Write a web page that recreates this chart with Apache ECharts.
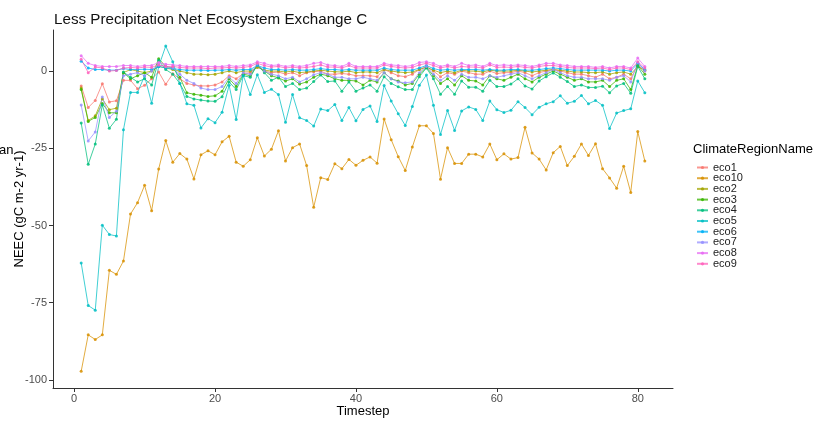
<!DOCTYPE html>
<html>
<head>
<meta charset="utf-8">
<script src="https://cdn.jsdelivr.net/npm/echarts@6/dist/echarts.min.js"></script>
<style>
html,body{margin:0;padding:0;background:#fff;}
#chart{width:817px;height:424px;}
</style>
</head>
<body>
<div id="chart"></div>
<script>
const timesteps = Array.from({length: 81}, (_, i) => i + 1);
const seriesNames = ['eco1','eco10','eco2','eco3','eco4','eco5','eco6','eco7','eco8','eco9'];
const colors = ['#F8766D','#D89000','#A3A500','#39B600','#00BF7D','#00BFC4','#00B0F6','#9590FF','#E76BF3','#FF62BC'];
const xTicks = [0, 20, 40, 60, 80];
const yTicks = [-100, -75, -50, -25, 0];

const eco1 = [
-4.8,-11.8,-9.5,-4.1,-10.0,-9.6,-3.0,-3.0,-5.7,-4.6,
-2.5,-0.3,-4.3,-0.9,-2.5,-4.0,-4.5,-4.8,-4.8,-4.5,
-3.5,-1.5,-2.5,-0.8,-0.5,1.5,0.0,-0.5,-0.3,-1.0,
-0.5,-1.5,-0.5,-0.2,0.0,-1.0,-1.0,-0.8,-1.0,-1.5,
-1.5,-1.5,-1.8,0.5,-0.5,-1.5,-1.8,-1.0,0.5,1.5,
0.0,-1.8,-0.5,-1.0,0.0,-0.5,-1.0,-1.0,0.0,-0.8,
-0.5,-0.5,0.0,-0.5,-1.5,-0.5,0.0,0.5,0.0,-0.5,
-1.0,-1.0,-1.5,-2.0,-1.0,-2.5,-2.0,-1.0,-2.5,2.0,
0.0];
const eco10 = [
-97.2,-85.4,-86.9,-85.4,-64.5,-65.8,-61.5,-46.3,-42.6,-37.0,
-45.2,-31.7,-22.5,-29.5,-26.7,-28.5,-34.9,-27.1,-25.8,-27.1,
-22.9,-21.1,-29.5,-30.8,-28.7,-21.6,-27.5,-25.3,-19.3,-29.1,
-24.8,-23.6,-30.6,-44.1,-34.5,-35.1,-30.0,-31.6,-28.6,-30.5,
-28.9,-27.8,-29.8,-15.5,-22.2,-27.7,-32.2,-24.6,-17.7,-17.7,
-20.2,-35.0,-24.8,-29.9,-29.9,-26.9,-26.9,-27.8,-23.6,-28.7,
-26.8,-28.5,-28.0,-18.2,-26.5,-28.5,-32.0,-26.4,-24.4,-30.6,
-27.6,-23.6,-27.3,-23.5,-31.6,-34.6,-37.9,-30.8,-39.3,-19.6,
-29.1];
const eco2 = [
-5.5,-16.0,-14.5,-9.0,-12.5,-12.0,-0.5,0.5,0.0,-0.5,
0.0,1.5,1.0,0.5,0.0,-0.5,-1.0,-1.0,-1.2,-1.0,
-0.5,0.0,-0.5,0.0,0.0,1.2,0.3,0.0,0.0,-0.3,
0.0,-0.5,-0.3,0.0,0.3,0.0,-0.2,-0.3,0.0,-0.5,
-0.3,-0.3,-0.5,0.5,0.0,-0.3,-0.5,-0.3,0.5,1.2,
0.3,-0.5,0.0,-0.5,0.3,0.0,0.0,-0.3,0.3,0.0,
0.0,0.0,0.3,0.0,-0.3,0.0,0.3,0.5,0.3,0.0,
-0.3,-0.3,-0.5,-0.5,-0.3,-1.0,-0.5,-0.3,-1.0,1.5,
0.3];
const eco3 = [
-6.0,-16.3,-15.0,-10.5,-13.5,-13.5,-0.5,-2.5,-1.5,-0.5,
-2.0,4.0,1.5,1.0,-2.0,-7.0,-7.5,-7.8,-8.2,-8.0,
-6.5,-2.5,-5.0,-1.0,-1.5,2.0,0.0,-1.5,-2.2,-3.2,
-2.5,-4.2,-3.5,-2.0,-1.0,-1.5,-2.5,-3.0,-3.0,-3.2,
-4.5,-3.0,-3.5,-0.5,-2.5,-3.2,-4.5,-4.0,-1.0,1.2,
-1.5,-4.0,-2.5,-4.5,-1.5,-3.0,-3.2,-4.5,-1.5,-2.5,
-3.0,-2.0,-1.0,-2.5,-3.5,-2.0,-1.0,0.0,-1.0,-2.0,
-3.0,-2.5,-3.5,-3.5,-3.0,-5.0,-3.0,-2.5,-6.0,1.8,
-1.0];
const eco4 = [
-16.8,-30.2,-23.6,-11.0,-18.5,-15.6,-0.3,-2.0,-3.5,-2.5,
-4.5,3.5,0.5,-1.0,-4.0,-8.2,-9.0,-9.4,-9.7,-9.8,
-8.3,-3.5,-6.0,-1.5,-2.0,2.0,-0.5,-3.0,-2.0,-5.0,
-4.0,-6.0,-5.5,-3.4,-1.3,-3.4,-3.2,-6.5,-3.5,-6.5,
-5.5,-4.5,-6.5,-1.8,-4.0,-5.1,-6.0,-6.0,-1.8,1.0,
-2.5,-7.5,-5.0,-7.5,-3.2,-5.2,-5.2,-6.5,-3.0,-5.0,
-5.0,-4.2,-2.5,-4.8,-5.8,-3.2,-1.8,-0.6,-2.0,-3.4,
-5.0,-4.5,-5.3,-5.3,-4.9,-7.0,-4.8,-4.0,-7.2,1.5,
-2.5];
const eco5 = [
-62.1,-75.9,-77.4,-49.9,-52.9,-53.4,-19.0,-6.9,-6.9,-1.6,
-10.4,1.5,8.1,3.0,-4.0,-10.6,-11.1,-18.4,-15.4,-16.7,
-13.3,-4.6,-15.7,-1.4,-7.6,-1.2,-6.9,-5.9,-7.6,-16.6,
-7.6,-15.1,-16.0,-17.8,-12.3,-12.8,-10.8,-16.0,-11.8,-16.1,
-12.4,-11.3,-16.3,-4.7,-9.7,-13.8,-17.6,-11.5,-4.6,-1.3,
-11.1,-20.5,-12.8,-19.2,-12.9,-11.6,-12.4,-16.0,-9.7,-12.5,
-13.4,-12.7,-9.9,-11.8,-14.1,-11.7,-10.6,-9.9,-8.0,-10.4,
-9.8,-7.9,-10.6,-9.5,-11.1,-18.6,-13.6,-12.8,-12.2,-3.2,
-7.0];
const eco6 = [
3.2,1.0,0.5,0.5,0.3,0.3,0.8,0.5,0.5,0.6,
0.5,1.5,1.0,0.8,0.5,0.3,0.3,0.3,0.2,0.3,
0.3,0.5,0.3,0.5,0.5,1.8,1.0,0.5,0.5,0.3,
0.5,0.3,0.3,0.5,0.8,0.5,0.5,0.3,0.5,0.3,
0.3,0.3,0.3,1.0,0.5,0.3,0.3,0.3,1.0,1.8,
0.8,0.3,0.5,0.3,0.5,0.5,0.5,0.3,0.5,0.3,
0.3,0.5,0.5,0.3,0.3,0.5,0.8,1.0,0.8,0.5,
0.3,0.3,0.3,0.3,0.3,0.0,0.3,0.3,0.0,2.5,
0.5];
const eco7 = [
-11.0,-22.6,-19.7,-8.4,-15.0,-13.0,-1.5,-1.0,-0.5,-1.5,
0.0,2.0,1.5,1.0,-1.0,-3.0,-4.0,-5.5,-6.0,-6.0,
-5.0,-2.0,-4.0,-0.5,-1.0,2.3,0.0,-1.0,-1.5,-2.5,
-2.0,-3.5,-2.5,-1.2,-0.5,-1.0,-2.0,-2.0,-2.5,-2.5,
-2.0,-2.5,-3.0,-0.5,-2.5,-3.5,-3.8,-3.5,-0.5,1.5,
-1.0,-3.0,-1.5,-3.0,-1.0,-2.0,-2.0,-2.5,-1.5,-2.0,
-1.5,-1.0,-0.5,-1.5,-2.5,-1.5,-0.5,0.5,-0.5,-1.5,
-2.0,-2.0,-2.5,-2.5,-2.5,-3.0,-2.0,-1.5,-3.5,2.8,
0.0];
const eco8 = [
5.0,2.5,1.8,1.5,1.5,1.5,1.8,1.8,1.5,1.8,
1.8,2.8,2.2,2.0,1.8,1.5,1.5,1.5,1.5,1.5,
1.5,1.8,1.5,1.8,2.0,3.0,2.5,1.8,2.0,1.5,
1.8,1.5,1.8,2.5,2.8,2.0,1.8,1.5,2.5,1.5,
1.5,1.5,1.5,2.5,2.0,1.8,1.5,1.8,2.8,3.0,
2.5,1.5,2.0,1.5,2.5,1.8,2.0,1.5,2.5,1.8,
2.0,1.8,2.0,1.8,1.5,2.0,2.5,2.5,2.0,1.8,
1.5,1.5,1.5,1.2,1.5,1.0,1.5,1.5,1.0,4.2,
1.5];
const eco9 = [
3.8,-0.5,1.3,1.0,0.0,0.2,1.0,1.2,1.0,1.3,
1.2,2.0,1.5,1.5,1.2,1.0,1.0,1.0,0.8,1.0,
1.0,1.2,1.0,1.2,1.5,2.5,1.8,1.3,1.5,1.0,
1.3,1.0,1.2,1.5,2.0,1.3,1.3,1.0,1.8,1.0,
1.0,1.0,1.0,2.0,1.5,1.2,1.0,1.2,2.0,2.5,
1.8,1.0,1.5,1.0,1.5,1.3,1.3,1.0,2.0,1.2,
1.3,1.2,1.5,1.2,1.0,1.5,1.8,1.8,1.5,1.2,
1.0,1.0,1.0,0.8,1.0,0.5,1.0,1.0,0.5,3.0,
1.0];

const seriesValues = [eco1, eco10, eco2, eco3, eco4, eco5, eco6, eco7, eco8, eco9];

const chart = echarts.init(document.getElementById('chart'), null, {renderer: 'canvas'});
const FONT = 'Liberation Sans, Arial, sans-serif';

const series = seriesNames.map((name, i) => ({
  name: name,
  type: 'line',
  data: timesteps.map((t, j) => [t, seriesValues[i][j]]),
  symbol: 'circle',
  symbolSize: 3,
  showSymbol: true,
  animation: false,
  lineStyle: {width: 1, color: colors[i], opacity: 0.75},
  itemStyle: {color: colors[i], opacity: 0.85},
  emphasis: {disabled: true}
}));

chart.setOption({
  animation: false,
  textStyle: {fontFamily: FONT},
  title: {
    text: 'Less Precipitation Net Ecosystem Exchange C',
    left: 49, top: 7,
    textStyle: {fontSize: 15.2, fontWeight: 'normal', color: '#111', fontFamily: FONT}
  },
  grid: {left: 53, right: 817 - 673, top: 30, bottom: 424 - 388, containLabel: false, outerBoundsMode: 'none'},
  legend: {
    orient: 'vertical',
    left: 691, top: 157,
    itemWidth: 11, itemHeight: 4, itemGap: -0.3,
    data: seriesNames,
    textStyle: {fontSize: 11, color: '#222', fontFamily: FONT, lineHeight: 10.2, padding: [0,0,0,0]},
    selectedMode: false
  },
  xAxis: {
    type: 'value',
    min: -3, max: 85,
    name: 'Timestep',
    nameLocation: 'middle',
    nameGap: 17,
    nameMoveOverlap: false,
    nameTextStyle: {fontSize: 13, color: '#000', fontFamily: FONT},
    axisLine: {show: true, onZero: false, lineStyle: {color: '#333', width: 1}},
    axisTick: {show: true, customValues: xTicks, length: 4, lineStyle: {color: '#333'}},
    axisLabel: {customValues: xTicks, fontSize: 11, color: '#4D4D4D', margin: 5, fontFamily: FONT},
    splitLine: {show: false}
  },
  yAxis: {
    type: 'value',
    min: -102.6, max: 13.3,
    name: 'NEEC (gC m-2 yr-1)',
    nameLocation: 'middle',
    nameRotate: 90,
    nameGap: 27,
    nameMoveOverlap: false,
    nameTextStyle: {fontSize: 13, color: '#000', fontFamily: FONT},
    axisLine: {show: true, onZero: false, lineStyle: {color: '#333', width: 1}},
    axisTick: {show: true, customValues: yTicks, length: 4, lineStyle: {color: '#333'}},
    axisLabel: {customValues: yTicks, fontSize: 11, color: '#4D4D4D', margin: 6, fontFamily: FONT},
    splitLine: {show: false}
  },
  graphic: [
    {type: 'text', left: 693, top: 143, style: {text: 'ClimateRegionName', fontSize: 13, fill: '#000', fontFamily: FONT}},
    {type: 'text', left: -1, top: 144, style: {text: 'an', fontSize: 13, fill: '#000', fontFamily: FONT}}
  ],
  series: series
});
</script>
</body>
</html>
